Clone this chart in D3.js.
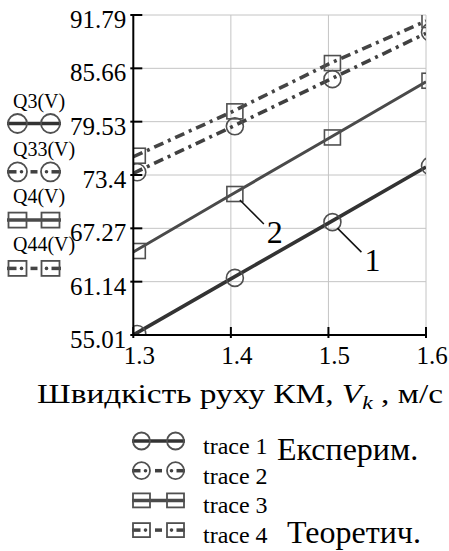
<!DOCTYPE html>
<html>
<head>
<meta charset="utf-8">
<script src="https://cdn.jsdelivr.net/npm/d3@7"></script>
<style>
  html, body { margin: 0; padding: 0; background: #fff; }
  svg { display: block; }
  svg text { font-family: "Liberation Serif", "DejaVu Serif", "Times New Roman", Times, serif; }
</style>
</head>
<body>
<svg id="chart" width="449" height="551"></svg>
<script>
// Speed of the machine, m/s
const speeds = [1.3, 1.4, 1.5, 1.6];
// Series values
const q3 = [55.01, 61.46, 67.87, 74.32];
const q33 = [73.6, 78.88, 84.3, 89.69];
const q4 = [64.55, 71.1, 77.6, 84.12];
const q44 = [75.5, 80.6, 86.15, 91.1];
// Axis ticks
const yTicks = [55.01, 61.14, 67.27, 73.4, 79.53, 85.66, 91.79];
const xTicks = [1.3, 1.4, 1.5, 1.6];
// Legend texts
const seriesNames = ["Q3(V)", "Q33(V)", "Q4(V)", "Q44(V)"];
const traceNames = ["trace 1", "trace 2", "trace 3", "trace 4"];

const FONT = "'Liberation Serif', 'DejaVu Serif', serif";
const svg = d3.select("#chart").attr("font-family", FONT);
const plot = { left: 133.3, right: 426, top: 15, bottom: 335 };

const x = d3.scaleLinear().domain([1.3, 1.6]).range([plot.left, plot.right]);
const y = d3.scaleLinear().domain([55.01, 91.79]).range([plot.bottom, plot.top]);

const DASHDOT = "10,5,3,5";
const styles = [
  { data: q3,  marker: "circle", dash: null,    color: "#333333", width: 3.6 },
  { data: q33, marker: "circle", dash: DASHDOT, color: "#404040", width: 3.6 },
  { data: q4,  marker: "square", dash: null,    color: "#4a4a4a", width: 3 },
  { data: q44, marker: "square", dash: DASHDOT, color: "#454545", width: 3.6 }
];
const markerColor = "#505050";

// Grid
const grid = svg.append("g").attr("stroke", "#c4c4c4").attr("stroke-width", 1);
grid.selectAll("line.gy").data(yTicks.slice(1)).join("line")
  .attr("x1", plot.left).attr("x2", plot.right)
  .attr("y1", d => y(d)).attr("y2", d => y(d));
grid.selectAll("line.gx").data(xTicks.slice(1)).join("line")
  .attr("x1", d => x(d)).attr("x2", d => x(d))
  .attr("y1", plot.top).attr("y2", plot.bottom);

// Clip for series
svg.append("clipPath").attr("id", "plotClip").append("rect")
  .attr("x", plot.left).attr("y", plot.top)
  .attr("width", plot.right - plot.left).attr("height", plot.bottom - plot.top);

const series = svg.append("g").attr("clip-path", "url(#plotClip)");
const line = d3.line().x((d, i) => x(speeds[i])).y(d => y(d));

const MDX = 4, MDY = -1;
styles.forEach(s => {
  series.append("path")
    .attr("d", line(s.data))
    .attr("fill", "none")
    .attr("stroke", s.color)
    .attr("stroke-width", s.width)
    .attr("stroke-dasharray", s.dash);
  const g = series.append("g").attr("fill", "none").attr("stroke", markerColor).attr("stroke-width", 1.6);
  if (s.marker === "circle") {
    g.selectAll("circle").data(s.data).join("circle")
      .attr("cx", (d, i) => x(speeds[i]) + MDX)
      .attr("cy", d => y(d) + MDY)
      .attr("r", 8.5);
  } else {
    g.selectAll("rect").data(s.data).join("rect")
      .attr("x", (d, i) => x(speeds[i]) + MDX - 8)
      .attr("y", d => y(d) + MDY - 7.5)
      .attr("width", 16).attr("height", 15);
  }
});

// Axes
const axes = svg.append("g").attr("stroke", "#000").attr("stroke-width", 2);
axes.append("line").attr("x1", plot.left).attr("x2", plot.left).attr("y1", plot.top).attr("y2", plot.bottom + 1);
axes.append("line").attr("x1", plot.left - 1).attr("x2", plot.right).attr("y1", plot.bottom).attr("y2", plot.bottom);
axes.selectAll("line.ty").data(yTicks).join("line")
  .attr("x1", plot.left - 3).attr("x2", plot.left + 9)
  .attr("y1", d => y(d)).attr("y2", d => y(d));
axes.selectAll("line.tx").data(xTicks).join("line")
  .attr("x1", d => x(d)).attr("x2", d => x(d))
  .attr("y1", plot.bottom + 3).attr("y2", plot.bottom - 8);

// Tick labels
svg.append("g").attr("font-size", 25).attr("text-anchor", "end")
  .selectAll("text").data(yTicks).join("text")
  .attr("x", plot.left - 7).attr("y", d => y(d) + 13)
  .text(d => String(d));
svg.append("g").attr("font-size", 25).attr("text-anchor", "middle")
  .selectAll("text").data(xTicks).join("text")
  .attr("x", d => x(d) + 6).attr("y", 364)
  .text(d => d.toFixed(1));

// Curve number callouts
function callout(px, py, n) {
  svg.append("line")
    .attr("x1", px + 9).attr("y1", py + 5)
    .attr("x2", px + 33).attr("y2", py + 29)
    .attr("stroke", "#111").attr("stroke-width", 1.5);
  svg.append("text").attr("x", px + 44).attr("y", py + 48)
    .attr("font-size", 32).attr("text-anchor", "middle").text(n);
}
callout(x(1.5), y(q3[2]), "1");
callout(x(1.4), y(q4[1]), "2");

// Axis title (stretched wide across the bottom)
const title = svg.append("text").attr("x", 37).attr("y", 403)
  .attr("font-size", 27).attr("text-anchor", "start")
  .attr("textLength", 406).attr("lengthAdjust", "spacingAndGlyphs");
title.append("tspan").text("Швидкість руху КМ, ");
title.append("tspan").attr("font-style", "italic").text("V");
title.append("tspan").attr("font-style", "italic").attr("font-size", 19).attr("dy", 6).text("k");
title.append("tspan").attr("dy", -6).text(" , м/с");

// Legend symbol: two markers joined by the series line style
function legendSymbol(g, x0, x1, cy, s, r, sw, sh) {
  const c1 = x0 + r + 1, c2 = x1 - r - 1, mid = (c1 + c2) / 2;
  if (s.dash) {
    const segs = [[x0, c1 - 1], [mid - 3.5, mid + 3.5], [c2 + 1, x1]];
    segs.forEach(([a, b]) => g.append("line").attr("x1", a).attr("x2", b).attr("y1", cy).attr("y2", cy)
      .attr("stroke", s.color).attr("stroke-width", 3.5));
    [c1 + 4, c2 - 4].forEach(cx => g.append("circle").attr("cx", cx).attr("cy", cy).attr("r", 1.8).attr("fill", s.color));
  } else {
    g.append("line").attr("x1", x0).attr("x2", x1).attr("y1", cy).attr("y2", cy)
      .attr("stroke", s.color).attr("stroke-width", 3.5);
  }
  [c1, c2].forEach(cx => {
    if (s.marker === "circle") {
      g.append("circle").attr("cx", cx).attr("cy", cy).attr("r", r)
        .attr("fill", "none").attr("stroke", markerColor).attr("stroke-width", 1.8);
    } else {
      g.append("rect").attr("x", cx - sw / 2).attr("y", cy - sh / 2).attr("width", sw).attr("height", sh)
        .attr("fill", "none").attr("stroke", markerColor).attr("stroke-width", 1.8);
    }
  });
}

// Left legend
const leftLegend = svg.append("g");
seriesNames.forEach((name, i) => {
  leftLegend.append("text").attr("x", 13).attr("y", 108 + i * 47.5).attr("font-size", 20).text(name);
  legendSymbol(leftLegend, 7, 61, 123.5 + i * 48.3, styles[i], 9.5, 18, 15);
});

// Bottom legend
const bottomLegend = svg.append("g");
traceNames.forEach((name, i) => {
  const base = 454 + i * 29.7;
  legendSymbol(bottomLegend, 132, 185, base - 13, styles[i], 8.5, 17, 14);
  bottomLegend.append("text").attr("x", 203).attr("y", base).attr("font-size", 24).text(name);
});
bottomLegend.append("text").attr("x", 277).attr("y", 460).attr("font-size", 32).text("Експерим.");
bottomLegend.append("text").attr("x", 287).attr("y", 543).attr("font-size", 32).text("Теоретич.");
</script>
</body>
</html>
